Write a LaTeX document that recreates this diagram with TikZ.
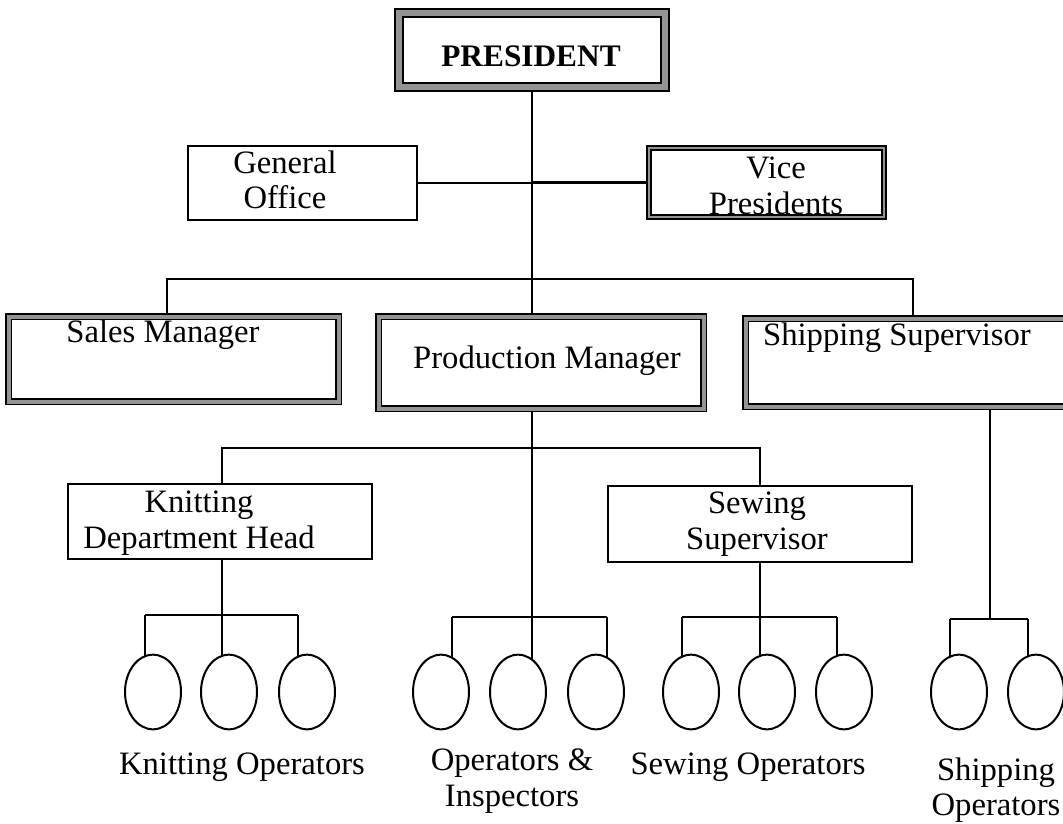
\documentclass[tikz,border=0pt]{standalone}
\usepackage{fontspec}
\setmainfont{Liberation Serif}
\usetikzlibrary{fit,backgrounds,shapes.geometric}

\begin{document}
\begin{tikzpicture}[x=0.75pt,y=-0.75pt,
  every node/.style={font=\fontsize{24.5}{26.5}\selectfont},
  plainbox/.style={draw, fill=white, line width=1.5pt, inner sep=0pt},
  bandbox/.style={draw, fill=white, line width=1.1pt, double=black!42,
    double distance=3pt, inner sep=0pt},
  thinband/.style={bandbox, double distance=2.2pt},
  heavyband/.style={bandbox, double distance=5.2pt},
  title/.style={font=\fontsize{23.5}{26}\selectfont\bfseries},
  oval/.style={draw, ellipse, fill=white, line width=1.5pt, inner sep=0pt,
    minimum width=42pt, minimum height=56pt},
  conn/.style={line width=1.7pt}]

\useasboundingbox (0,0) rectangle (1063,824);

% --- top level ---
\node[heavyband, fit={(399,13) (665,87)}] (pres) {};
\node[title, anchor=base] (presT) at (531,66) {PRESIDENT};

% --- staff boxes beside the trunk ---
\node[plainbox, fit={(188,146) (417,220)}] (office) {};
\node[align=center] (officeT) at (285,180) {General\\Office};
\node[thinband, fit={(649,148) (884,217)}] (vp) {};
\node[align=center] (vpT) at (776,186) {Vice\\Presidents};

% --- managers ---
\node[bandbox, fit={(8.5,316.5) (338.5,401.5)}] (sales) {};
\node[anchor=base] (salesT) at (163,342) {Sales Manager};
\node[bandbox, fit={(378.5,316.5) (703.5,408.5)}] (prod) {};
\node[anchor=base] (prodT) at (547,368) {Production Manager};
\node[bandbox, fit={(745.5,318.5) (1100,406.5)}] (ship) {};
\node[anchor=base] (shipT) at (897,345) {Shipping Supervisor};

% --- supervisors ---
\node[plainbox, fit={(68,484) (372,559)}] (knit) {};
\node[align=center] (knitT) at (199,523) {Knitting\\Department Head};
\node[plainbox, fit={(608,486) (912,562)}] (sew) {};
\node[align=center] (sewT) at (757,524) {Sewing\\Supervisor};

% --- operators ---
\foreach \e/\x in {k1/153,k2/229,k3/307, o1/441,o2/518,o3/596,
                   s1/691,s2/767,s3/844, p1/959,p2/1036}
  \node[oval] (\e) at (\x,692) {};

\node (knitOps) at (242,767) {Knitting Operators};
\node[align=center] (inspOps) at (512,781) {Operators \&\\Inspectors};
\node (sewOps) at (748,767) {Sewing Operators};
\node[align=center] (shipOps) at (996,790) {Shipping\\Operators};

% --- connectors ---
\begin{scope}[on background layer]
  % trunk from the president down to the production floor
  \coordinate (opsBus) at (532,617);
  \draw[conn] (pres.south) -- (pres.south |- opsBus);
  \draw[conn] (office.east) -- (office.east -| pres.south);
  \draw[conn] (vp.west) -- (vp.west -| pres.south);

  % managers
  \coordinate (salesDrop) at (167,279);
  \coordinate (shipDrop) at (913,279);
  \draw[conn] (sales.north -| salesDrop) -- (salesDrop) -- (shipDrop)
              -- (ship.north -| shipDrop);

  % supervisors under production
  \coordinate (knitDrop) at (222,448);
  \coordinate (sewDrop) at (760,448);
  \draw[conn] (knit.north -| knitDrop) -- (knitDrop) -- (sewDrop)
              -- (sew.north -| sewDrop);

  % trunks into the operator groups
  \coordinate (knitBus) at (222,615);
  \coordinate (sewBus) at (760,617);
  \coordinate (shipBus) at (990,619);
  \draw[conn] (knit.south -| knitBus) -- (knitBus);
  \draw[conn] (sew.south -| sewBus) -- (sewBus);
  \draw[conn] (ship.south -| shipBus) -- (shipBus);

  % group buses and drops into each operator
  \draw[conn] (145,615) -- (298,615);
  \draw[conn] (452,617) -- (607,617);
  \draw[conn] (682,617) -- (837,617);
  \draw[conn] (950,619) -- (1028,619);
  \foreach \e/\x/\y in {k1/145/615,k2/222/615,k3/298/615,
                        o1/452/617,o2/532/617,o3/607/617,
                        s1/682/617,s2/760/617,s3/837/617,
                        p1/950/619,p2/1028/619}{
    \coordinate (\e bus) at (\x,\y);
    \draw[conn] (\e bus) -- (\e bus |- \e.center);
  }
\end{scope}
\end{tikzpicture}
\end{document}
